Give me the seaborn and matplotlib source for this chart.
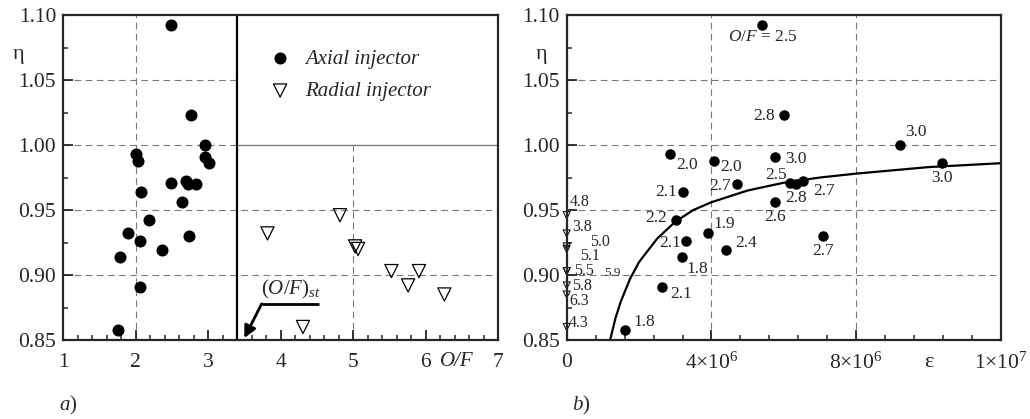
import matplotlib
matplotlib.use("Agg")
import matplotlib.pyplot as plt
from matplotlib.ticker import MultipleLocator, FixedLocator
import seaborn as sns

# Axial injector: O/F, efficiency and epsilon (same order in both panels)
of_axial = [2.49, 2.76, 2.00, 2.04, 2.08, 2.96, 2.96, 3.02, 2.49, 2.70, 2.73,
            2.84, 2.64, 2.19, 1.90, 2.06, 1.78, 2.37, 2.74, 2.06, 1.76]
eta_axial = [1.092, 1.023, 0.993, 0.988, 0.964, 1.000, 0.991, 0.986, 0.971, 0.972, 0.970,
             0.970, 0.956, 0.942, 0.932, 0.926, 0.914, 0.919, 0.930, 0.891, 0.858]
eps_axial = [5.39e6, 6.00e6, 2.86e6, 4.08e6, 3.20e6, 9.21e6, 5.75e6, 10.36e6, 6.17e6, 6.54e6, 4.70e6,
             6.33e6, 5.75e6, 3.01e6, 3.90e6, 3.29e6, 3.19e6, 4.41e6, 7.07e6, 2.63e6, 1.61e6]

# Radial injector: O/F and efficiency (epsilon = 0 in panel b)
of_radial = [4.82, 3.82, 5.03, 5.07, 5.53, 5.91, 5.76, 6.26, 4.31]
eta_radial = [0.946, 0.932, 0.922, 0.920, 0.903, 0.903, 0.892, 0.885, 0.860]

# Trend curve
curve_eps = [1.2e6, 1.35e6, 1.5e6, 1.75e6, 2.0e6, 2.5e6, 3.0e6, 3.5e6, 4.0e6,
             5.0e6, 6.0e6, 7.0e6, 8.0e6, 10.0e6, 12.0e6]
curve_eta = [0.850, 0.867, 0.880, 0.897, 0.910, 0.928, 0.941, 0.950, 0.956,
             0.965, 0.971, 0.975, 0.978, 0.983, 0.986]

of_stoich = 3.4
eps_ticks = [0, 4e6, 8e6, 1.2e7]
eps_ticklabels = ["0", r"4$\times$10$^6$", r"8$\times$10$^6$", r"1$\times$10$^7$"]

# label placement for panel b (pixel offsets, horizontal alignment)
axial_lab = [(1, -12, "center"), (-9, -1, "right"), (6, -11, "left"), (6, -6, "left"),
             (-6, 0, "right"), (5, 13, "left"), (10, -2, "left"), (0, -15, "center"),
             (-3, 8, "right"), (10, -10, "left"), (-6, -2, "right"), (0, -14, "center"),
             (0, -15, "center"), (-9, 2, "right"), (6, 9, "left"), (-5, -2, "right"),
             (4, -12, "left"), (9, 7, "left"), (0, -15, "center"), (8, -7, "left"),
             (8, 8, "left")]
radial_lab = [(3, 13), (6, 6), (23, 4), (13, -7), (7, 0), (38, -2), (5, -1), (3, -6), (2, 4)]

sns.set_style("ticks")
plt.rcParams["font.family"] = ["Liberation Serif", "DejaVu Serif"]
plt.rcParams["mathtext.fontset"] = "custom"
plt.rcParams["mathtext.rm"] = "Liberation Serif"
plt.rcParams["mathtext.it"] = "Liberation Serif:italic"
plt.rcParams["xtick.direction"] = "in"
plt.rcParams["ytick.direction"] = "in"

fig = plt.figure(figsize=(10.3, 4.19), dpi=100)
ax1 = fig.add_axes([63 / 1030, 79 / 419, 435 / 1030, 325 / 419])
ax2 = fig.add_axes([566.7 / 1030, 79 / 419, 434.3 / 1030, 325 / 419])

gridkw = dict(colors="#7a7a7a", linestyles=(0, (6, 4)), linewidth=0.8, zorder=0.5)

# ---- panel a
ax1.hlines([0.90, 0.95], 1, 7, **gridkw)
ax1.hlines([1.00, 1.05], 1, of_stoich, **gridkw)
ax1.vlines(2, 0.85, 1.10, **gridkw)
ax1.vlines(5, 0.85, 1.00, **gridkw)
ax1.axvline(of_stoich, color="black", lw=1.6, zorder=1)
ax1.hlines(1.0, of_stoich, 7, colors="#808080", lw=1.0, zorder=1)

sns.scatterplot(x=of_axial, y=eta_axial, ax=ax1, color="black", s=75, linewidth=0,
                zorder=3, label="Axial injector")
sns.scatterplot(x=of_radial, y=eta_radial, ax=ax1, marker="v", s=90, color="black",
                facecolor="none", edgecolor="black", linewidth=0.9, zorder=3,
                label="Radial injector")

ax1.set_xlim(1, 7)
ax1.set_ylim(0.85, 1.10)
ax1.xaxis.set_major_locator(MultipleLocator(1))
ax1.xaxis.set_minor_locator(MultipleLocator(0.2))
ax1.yaxis.set_major_locator(MultipleLocator(0.05))
ax1.yaxis.set_minor_locator(MultipleLocator(0.025))
ax1.yaxis.set_major_formatter(plt.FormatStrFormatter("%.2f"))

ax1.legend(loc="upper left", bbox_to_anchor=(0.456, 0.92), frameon=False,
           prop=dict(family="Liberation Serif", style="italic", size=15),
           handlelength=1.0, handletextpad=0.7, labelspacing=0.6,
           borderaxespad=0, borderpad=0.4)

# (O/F)st pointer
ax1.plot([4.53, 3.74], [0.8778, 0.8778], color="black", lw=2, solid_capstyle="butt")
ax1.annotate("", xy=(3.50, 0.8515), xytext=(3.74, 0.8778),
             arrowprops=dict(arrowstyle="-|>", color="black", lw=2, mutation_scale=18,
                             shrinkA=0, shrinkB=0))
ax1.text(3.73, 0.880, r"$(\mathit{O/F})_{\mathit{st}}$", va="bottom", ha="left", size=15)

ax1.text(-0.103, 1.07, "η", transform=ax1.get_yaxis_transform(), ha="center",
         va="center", size=16)
ax1.text(6.43, -0.065, "O/F", transform=ax1.get_xaxis_transform(), ha="center",
         va="center", size=15, style="italic")

# ---- panel b
ax2.grid(True, which="major", color="#7a7a7a", ls=(0, (6, 4)), lw=0.8, zorder=0.5)
sns.lineplot(x=curve_eps, y=curve_eta, ax=ax2, color="black", lw=1.6, zorder=2)
sns.scatterplot(x=eps_axial, y=eta_axial, ax=ax2, color="black", s=57, linewidth=0,
                zorder=3)
sns.scatterplot(x=[0] * len(eta_radial), y=eta_radial, ax=ax2, marker="v", s=26,
                color="black", facecolor="none", edgecolor="black", linewidth=0.7,
                zorder=4, clip_on=False)

for i, (e, h, o) in enumerate(zip(eps_axial, eta_axial, of_axial)):
    dx, dy, ha = axial_lab[i]
    txt = r"$\mathit{O/F}$ = %.1f" % o if i == 0 else "%.1f" % o
    ax2.annotate(txt, (e, h), xytext=(dx, dy), textcoords="offset pixels",
                 ha=ha, va="center", size=12.5)
for i, (h, o) in enumerate(zip(eta_radial, of_radial)):
    dx, dy = radial_lab[i]
    ax2.annotate("%.1f" % o, (0, h), xytext=(dx, dy), textcoords="offset pixels",
                 ha="left", va="center", size=9.5 if i == 5 else 11.5)

ax2.set_xlim(0, 1.2e7)
ax2.set_ylim(0.85, 1.10)
ax2.xaxis.set_major_locator(FixedLocator(eps_ticks))
ax2.set_xticklabels(eps_ticklabels)
ax2.xaxis.set_minor_locator(MultipleLocator(0.8e6))
ax2.yaxis.set_major_locator(MultipleLocator(0.05))
ax2.yaxis.set_minor_locator(MultipleLocator(0.025))
ax2.yaxis.set_major_formatter(plt.FormatStrFormatter("%.2f"))

ax2.text(-0.057, 1.07, "η", transform=ax2.get_yaxis_transform(), ha="center",
         va="center", size=16)
ax2.text(10.0e6, -0.068, "ε", transform=ax2.get_xaxis_transform(), ha="center",
         va="center", size=16)

for ax in (ax1, ax2):
    ax.set_xlabel("")
    ax.set_ylabel("")
    for s in ax.spines.values():
        s.set_linewidth(1.6)
        s.set_zorder(5)
    ax.tick_params(which="major", length=7, width=1.3, labelsize=15.5, pad=5)
    ax.tick_params(which="minor", length=3.5, width=1.1)
    ax.tick_params(axis="x", which="major", pad=9)
    ax.tick_params(top=False, right=False, which="both")

fig.text(68 / 1030, 1 - 405 / 419, r"$\mathit{a}$)", ha="center", va="center", size=15)
fig.text(581 / 1030, 1 - 405 / 419, r"$\mathit{b}$)", ha="center", va="center", size=15)

fig.savefig("out.png", dpi=100)
